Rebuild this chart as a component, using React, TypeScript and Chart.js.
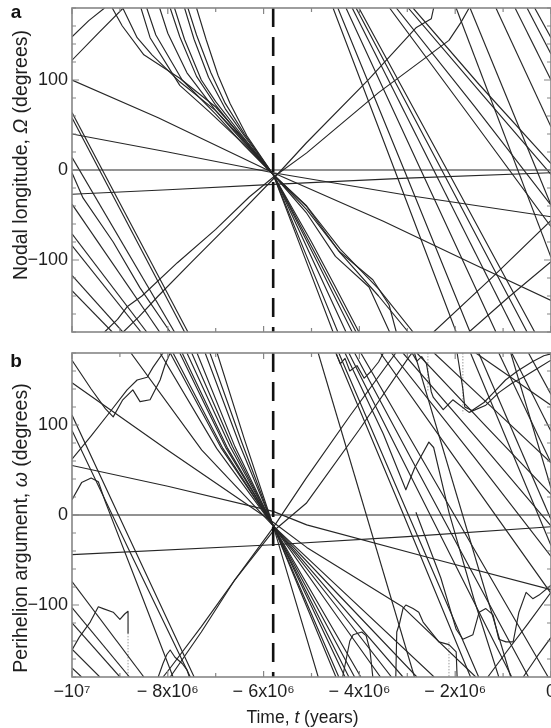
import React, { useEffect, useRef } from 'react';
import { Chart, registerables } from 'chart.js';

Chart.register(...registerables);

type Pt = [number, number] | null;
type Track = Pt[];
type RichPart = { text: string; italic?: boolean };

const FONT = "'Liberation Sans', Arial, Helvetica, sans-serif";
const LINE = '#262626';

// ---- axes ----
const xTickValues = [-10, -8, -6, -4, -2, 0];
const xTickLabels = ['\u221210\u2077', '\u2212 8x10\u2076', '\u2212 6x10\u2076', '\u2212 4x10\u2076', '\u2212 2x10\u2076', '0'];
const xMinorTicks = [-10, -9, -8, -7, -6, -5, -4, -3, -2, -1, 0];
const yTickValues = [-100, 0, 100];
const yTickLabels = ['\u2212100', '0', '100'];
const yMinorTicks = [-180, -160, -140, -120, -100, -80, -60, -40, -20, 0, 20, 40, 60, 80, 100, 120, 140, 160, 180];
const timeMin = -10;
const timeMax = 0;
const angleMin = -180;
const angleMax = 180;
const eventTime = -5.8; // Myr, dashed line

const nodalTitle: RichPart[] = [{ text: 'Nodal longitude, ' }, { text: '\u03A9', italic: true }, { text: ' (degrees)' }];
const periTitle: RichPart[] = [{ text: 'Perihelion argument, ' }, { text: '\u03C9', italic: true }, { text: ' (degrees)' }];
const timeTitle: RichPart[] = [{ text: 'Time, ' }, { text: 't', italic: true }, { text: ' (years)' }];

// ---- panel a : nodal longitude (deg) vs time (Myr) ----
const nodalReference: Track = [[-10, 0], [0, 0]];
const nodalDriftUp: Track = [[-10, -27], [-8, -22], [-5.8, -16], [-3, -9], [0, -3]];
const nodalDriftFast: Track = [[-10, 100], [-8.2, 58], [-5.8, -3], [-3.5, -57], [-1.6, -105], [0, -145]];
const nodalDriftSlow: Track = [[-10, 40], [-8, 20], [-5.8, -3], [-3, -28], [0, -52]];
const nodalRiseA: Track = [[-10, 148], [-9.65, 166], [-9.32, 180], null, [-9.32, -180], [-9.05, -166], [-8.85, -152], [-8.54, -140], [-7.8, -103], [-7, -66], [-6.3, -30], [-5.8, -8], [-5.1, 19], [-3.6, 86], [-2.13, 144], [-1.88, 164], [-1.71, 180], null, [-1.71, -180], [-0.9, -142], [0, -102]];
const nodalRiseB: Track = [[-10, 122], [-9.45, 152], [-8.93, 180], null, [-8.93, -180], [-8.6, -163], [-8.2, -140], [-7.5, -102], [-6.6, -54], [-5.8, -10], [-5.11, 30], [-3.8, 101], [-2.82, 158], [-2.5, 168], [-2.45, 180], null, [-2.45, -180], [-1.2, -118], [0, -56]];
const nodalFast1: Track = [[-10, -134], [-9.16, -180], null, [-9.16, 180], [-8.95, 160], [-8.5, 128], [-7.75, 102], [-7, 70], [-6.4, 34], [-5.8, -5], [-5.1, -40], [-4.4, -88], [-3.6, -132], [-2.88, -180], null, [-2.88, 180], [-1.5, 95], [0, 7]];
const nodalFast2: Track = [[-10, -117], [-8.94, -180], null, [-8.94, 180], [-8.64, 147], [-8.33, 128], [-7.75, 98], [-7, 66], [-6.4, 32], [-5.8, -5], [-5.1, -44], [-4.4, -92], [-3.6, -140], [-2.98, -180], null, [-2.98, 180], [-1.5, 88], [0, -5]];
const nodalFast3: Track = [[-10, -84], [-8.56, -180], null, [-8.56, 180], [-8.37, 147], [-7.75, 94], [-7.12, 64], [-6.4, 28], [-5.8, -5], [-5.11, -40], [-4.43, -90], [-3.72, -122], [-3.38, -150], [-3.23, -180], null, [-3.23, 180], [-1.6, 71], [0, -39]];
const nodalFast4: Track = [[-10, -71], [-8.44, -180], null, [-8.44, 180], [-8.25, 150], [-7.7, 100], [-7, 62], [-6.4, 27], [-5.8, -5], [-5.1, -48], [-4.5, -96], [-3.8, -130], [-3.37, -180], null, [-3.37, 180], [-1.7, 60], [0, -63]];
const nodalFast5: Track = [[-10, -38], [-8.17, -180], null, [-8.17, 180], [-8, 152], [-7.6, 108], [-7, 66], [-6.4, 30], [-5.8, -5], [-5, -80], [-4.5, -130], [-4.01, -180], null, [-4.01, 180], [-2.2, 3], [-0.34, -180], null, [-0.34, 180], [0, 147]];
const nodalFast6: Track = [[-10, -3], [-9.77, -31], [-9.14, -80], [-8.58, -131], [-7.95, -180], null, [-7.95, 180], [-7.75, 148], [-7.4, 104], [-7, 72], [-6.4, 32], [-5.8, -5], [-4.9, -95], [-4.07, -180], null, [-4.07, 180], [-2.3, 2], [-0.5, -180], null, [-0.5, 180], [0, 129]];
const nodalFast7: Track = [[-10, 14], [-7.86, -180], null, [-7.86, 180], [-7.65, 145], [-7.3, 100], [-7, 76], [-6.4, 35], [-5.8, -5], [-4.9, -100], [-4.15, -180], null, [-4.15, 180], [-2.45, 0], [-0.75, -180], null, [-0.75, 180], [0, 100]];
const nodalFast8: Track = [[-10, 58], [-7.65, -180], null, [-7.65, 180], [-7.45, 145], [-7.15, 103], [-6.8, 68], [-6.4, 38], [-5.8, -5], [-5, -97], [-4.28, -180], null, [-4.28, 180], [-2.7, -2], [-1.15, -180], null, [-1.15, 180], [0, 48]];
const nodalFast9: Track = [[-10, 64], [-7.58, -180], null, [-7.58, 180], [-7.4, 150], [-7.1, 108], [-6.8, 74], [-6.4, 40], [-5.8, -5], [-5.1, -96], [-4.45, -180], null, [-4.45, 180], [-3.05, -2], [-1.69, -180], null, [-1.69, 180], [0, -39]];
const nodalFast10: Track = [[-7.4, 180], [-7.2, 145], [-6.95, 105], [-6.7, 74], [-6.35, 38], [-5.8, -5], [-5.15, -96], [-4.55, -180], null, [-4.55, 180], [-3.3, 5], [-1.98, -180], null, [-1.98, 180], [0, -97]];

const nodalTracks: Track[] = [nodalReference, nodalDriftUp, nodalDriftFast, nodalDriftSlow, nodalRiseA, nodalRiseB, nodalFast1, nodalFast2, nodalFast3, nodalFast4, nodalFast5, nodalFast6, nodalFast7, nodalFast8, nodalFast9, nodalFast10];

// ---- panel b : perihelion argument (deg) vs time (Myr) ----
const periReference: Track = [[-10, 0], [0, 0]];
const periDriftUp: Track = [[-10, -44], [-5.8, -33], [-3, -24], [0, -13]];
const periDriftMid: Track = [[-10, 147], [-8, 72], [-5.8, -8], [-5.1, -36], [-3.1, -102], [-1.57, -180], null, [-1.57, 180], [0, 122]];
const periDriftSlow: Track = [[-10, 55], [-8, 32], [-5.8, 4], [-5.1, -11], [-2.5, -48], [0, -83]];
const periRiseA: Track = [[-10, 172], [-9.6, 140], [-9.3, 118], [-9.14, 109], [-8.94, 128], [-8.73, 139], [-8.58, 126], [-8.37, 128], [-8.16, 150], [-8.05, 168], [-7.95, 180], null, [-7.95, -180], [-7.3, -130], [-6.6, -72], [-5.8, -14], [-5.11, 41], [-4.2, 110], [-3.24, 180], null, [-3.24, -180], [-3.22, -130], [-3.16, -120], [-3.09, -104], [-3.03, -100], [-2.88, -104], [-2.76, -108], [-2.67, -119], [-2.34, -141], [-2.13, -144], [-1.98, -152], [-1.96, -180], null, [-1.96, 180], [-1.84, 140], [-1.8, 120], [-1.65, 116], [-1.4, 125], [-1.2, 136], [-0.95, 150], [-0.7, 160], [-0.4, 170], [-0.15, 177], [0, 179]];
const periRiseB: Track = [[-10, 62], [-9.6, 88], [-9.2, 115], [-8.85, 139], [-8.64, 150], [-8.43, 153], [-8.31, 164], [-8.1, 180], null, [-8.1, -180], [-7.95, -170], [-7.3, -124], [-6.6, -72], [-5.8, -18], [-5.11, 13], [-4, 95], [-2.96, 176], [-2.9, 180], [-2.8, 171], [-2.7, 176], [-2.6, 168], [-2.5, 137], [-2.46, 131], [-2.25, 117], [-2.05, 128], [-1.71, 114], [-1.36, 122], [-1.09, 136], [-0.8, 147], [-0.58, 153], [-0.25, 164], [0, 172]];
const periFast1: Track = [[-10, -170], [-9.8, -180], null, [-8.77, 180], [-7.29, 72], [-5.8, -12], [-4.5, -77], [-2.44, -180], null, [-2.44, 180], [-1.2, 118], [0, 58]];
const periFast2: Track = [[-10, -149], [-9.42, -180], null, [-8.16, 180], [-6.98, 74], [-5.8, -12], [-4.5, -85], [-2.8, -180], null, [-2.8, 180], [-1.4, 101], [0, 23]];
const periFast3: Track = [[-10, -120], [-9, -180], null, [-7.95, 180], [-6.88, 74], [-5.8, -12], [-4.5, -93], [-3.09, -180], null, [-3.09, 180], [-1.5, 82], [0, -12]];
const periFast4: Track = [[-10, -103], [-8.8, -180], null, [-7.89, 180], [-6.85, 74], [-5.8, -12], [-4.5, -100], [-3.33, -180], null, [-3.33, 180], [-1.6, 64], [0, -46]];
const periFast5: Track = [[-10, -74], [-8.5, -180], null, [-7.75, 180], [-6.78, 74], [-5.8, -12], [-4.5, -110], [-3.56, -180], null, [-3.56, 180], [-1.8, 48], [0, -87]];
const periFast6: Track = [[-10, 17], [-9.8, 36], [-9.6, 41], [-9.45, 37], [-9.3, 14], [-8.6, -82], [-7.89, -180], null, [-7.7, 180], [-6.75, 74], [-5.8, -12], [-3.97, -180], null, [-3.97, 180], [-2.05, 3], [-0.06, -180]];
const periFast7: Track = [[-10, 94], [-8.8, -40], [-7.53, -180], null, [-7.6, 180], [-6.7, 76], [-5.8, -12], [-4.1, -180], null, [-4.1, 180], [-2.32, 3], [-0.47, -180], null, [-0.47, 180], [0, 134]];
const periFast8: Track = [[-10, 111], [-8.8, -26], [-7.45, -180], null, [-7.5, 180], [-6.65, 76], [-5.8, -12], [-4.22, -180], null, [-4.22, 180], [-2.55, 3], [-0.82, -180], null, [-0.82, 180], [0, 93]];
const periFast9: Track = [[-7.39, 180], [-6.6, 76], [-5.8, -12], [-4.3, -180], null, [-4.3, 180], [-3.5, 90], [-3.03, 28], [-2.85, 52], [-2.55, 81], [-2.45, 75], [-2.13, 3], [-1.6, -95], [-1.09, -180], null, [-1.09, 180], [0, 58]];
const periFast10: Track = [[-7.22, 180], [-6.5, 78], [-5.8, -12], [-4.43, -180], null, [-4.43, 180], [-3, 3], [-1.51, -180], null, [-1.51, 180], [0, -5]];
const periFast11: Track = [[-7.12, 180], [-6.45, 80], [-5.8, -12], [-4.49, -180], null, [-4.49, 180], [-3.1, 3], [-1.68, -180], null, [-1.68, 180], [0, -34]];
const periFast12: Track = [[-6.97, 180], [-6.4, 84], [-5.8, -12], [-4.86, -180], null, [-4.86, 180], [-2.85, -180], null, [-2.85, 180], [-0.84, -180], null, [-0.84, 180], [0, 30]];
const periWaveLowLeft: Track = [[-10, -150], [-9.85, -136], [-9.62, -119], [-9.45, -102], [-9.35, -104], [-9.14, -108], [-9.0, -116], [-8.9, -110], [-8.83, -107], [-8.83, -131]];
const periWaveLowLeft2: Track = [[-8.2, -180], [-8.1, -165], [-8.02, -155], [-7.95, -150], [-7.85, -158], [-7.7, -165], [-7.6, -172], [-7.55, -180]];
const periBumpLow: Track = [[-4.35, -180], [-4.2, -140], [-4.13, -133], [-3.95, -130], [-3.86, -134], [-3.78, -150], [-3.72, -180]];
const periWaveLowRight: Track = [[-2.82, 3], [-2.3, -70], [-1.98, -127], [-1.84, -138], [-1.63, -133], [-1.5, -108], [-1.36, -104], [-1.21, -111], [-1.09, -138], [-0.94, -141], [-0.79, -141], [-0.67, -108], [-0.52, -86], [-0.38, -93], [-0.25, -89], [0, -78]];
const periWaveTop: Track = [[-4.49, 180], [-4.4, 168], [-4.3, 174], [-4.2, 160], [-4.05, 166], [-3.9, 152], [-3.75, 160], [-3.6, 170], [-3.5, 180]];
const periRiseLateA: Track = [[-1.32, -180], [-0.9, -150], [-0.5, -122], [0, -86]];
const periRiseLateB: Track = [[-0.58, -180], [-0.3, -158], [0, -136]];

const periTracks: Track[] = [periReference, periDriftUp, periDriftMid, periDriftSlow, periRiseA, periRiseB, periFast1, periFast2, periFast3, periFast4, periFast5, periFast6, periFast7, periFast8, periFast9, periFast10, periFast11, periFast12, periWaveLowLeft, periWaveLowLeft2, periBumpLow, periWaveLowRight, periWaveTop, periRiseLateA, periRiseLateB];

// faint dotted jumps
const periWrapMarks: Track[] = [
  [[-8.83, -131], [-8.83, -180]],
  [[-2.57, 180], [-2.57, 137]],
  [[-1.84, 180], [-1.84, 113]],
  [[-2.13, -141], [-2.13, -180]],
];

function splitTrack(track: Track): [number, number][][] {
  const out: [number, number][][] = [];
  let cur: [number, number][] = [];
  for (const p of track) {
    if (p === null) {
      if (cur.length) out.push(cur);
      cur = [];
    } else cur.push(p);
  }
  if (cur.length) out.push(cur);
  return out;
}

function buildDatasets(tracks: Track[], dotted: Track[]) {
  const ds: any[] = [
    {
      data: [{ x: eventTime, y: angleMax }, { x: eventTime, y: angleMin }],
      borderColor: '#111',
      borderWidth: 2.6,
      borderDash: [19, 10],
      pointRadius: 0,
    },
  ];
  tracks.forEach((tr) =>
    splitTrack(tr).forEach((seg) =>
      ds.push({
        data: seg.map(([x, y]) => ({ x, y })),
        borderColor: LINE,
        borderWidth: 1.15,
        pointRadius: 0,
        borderJoinStyle: 'round',
      })
    )
  );
  dotted.forEach((tr) =>
    splitTrack(tr).forEach((seg) =>
      ds.push({
        data: seg.map(([x, y]) => ({ x, y })),
        borderColor: '#9a9a9a',
        borderWidth: 1,
        borderDash: [1.5, 1.5],
        pointRadius: 0,
      })
    )
  );
  return ds;
}

function drawRich(ctx: CanvasRenderingContext2D, parts: RichPart[], cx: number, cy: number, rotate: boolean, size: number) {
  ctx.save();
  ctx.translate(cx, cy);
  if (rotate) ctx.rotate(-Math.PI / 2);
  const fonts = parts.map((p) => `${p.italic ? 'italic ' : ''}${size}px ${FONT}`);
  let total = 0;
  const widths = parts.map((p, i) => {
    ctx.font = fonts[i];
    const w = ctx.measureText(p.text).width;
    total += w;
    return w;
  });
  let x = -total / 2;
  ctx.textBaseline = 'middle';
  ctx.textAlign = 'left';
  ctx.fillStyle = '#1e1e1e';
  parts.forEach((p, i) => {
    ctx.font = fonts[i];
    ctx.fillText(p.text, x, 0);
    x += widths[i];
  });
  ctx.restore();
}

type PanelProps = {
  id: string;
  tracks: Track[];
  dotted: Track[];
  canvasTop: number;
  canvasHeight: number;
  padTop: number;
  padBottom: number;
  showX: boolean;
  yTitle: RichPart[];
  yTitleCenter: number; // absolute page y
  letter: string;
  letterBaseline: number; // absolute page y
};

function Panel(props: PanelProps) {
  const ref = useRef<HTMLCanvasElement>(null);
  useEffect(() => {
    const off = props.canvasTop;
    const decor = {
      id: 'decor-' + props.id,
      afterDraw(chart: any) {
        const { ctx, chartArea: a, scales } = chart;
        const xs = scales.x;
        const ys = scales.y;
        ctx.save();
        ctx.strokeStyle = '#868686';
        ctx.lineWidth = 1.6;
        ctx.strokeRect(a.left, a.top, a.right - a.left, a.bottom - a.top);
        ctx.lineWidth = 1.2;
        ctx.beginPath();
        xMinorTicks.forEach((v) => {
          const px = xs.getPixelForValue(v);
          const len = xTickValues.includes(v) ? 6 : 4;
          ctx.moveTo(px, a.top);
          ctx.lineTo(px, a.top + len);
          ctx.moveTo(px, a.bottom);
          ctx.lineTo(px, a.bottom - len);
        });
        yMinorTicks.forEach((v) => {
          const py = ys.getPixelForValue(v);
          const len = yTickValues.includes(v) ? 7 : 4;
          ctx.moveTo(a.left, py);
          ctx.lineTo(a.left + len, py);
          ctx.moveTo(a.right, py);
          ctx.lineTo(a.right - len, py);
        });
        ctx.stroke();
        ctx.restore();
        drawRich(ctx, props.yTitle, 22, props.yTitleCenter - off, true, 19.5);
        if (props.showX) {
          drawRich(ctx, timeTitle, (a.left + a.right) / 2 - 9, 718 - off, false, 17.5);
        }
        ctx.save();
        ctx.font = `bold 19px ${FONT}`;
        ctx.fillStyle = '#111';
        ctx.textAlign = 'center';
        ctx.textBaseline = 'alphabetic';
        ctx.fillText(props.letter, 16, props.letterBaseline - off);
        ctx.restore();
      },
    };
    const xHeight = props.showX ? 51 : 0;

    const chart = new Chart(ref.current as HTMLCanvasElement, {
      type: 'line',
      data: { datasets: buildDatasets(props.tracks, props.dotted) },
      options: {
        responsive: false,
        animation: false,
        events: [],
        layout: { padding: { top: props.padTop, right: 49, bottom: props.padBottom, left: 0 } },
        plugins: { legend: { display: false }, tooltip: { enabled: false } },
        elements: { line: { tension: 0 }, point: { radius: 0 } },
        scales: {
          x: {
            type: 'linear',
            min: timeMin,
            max: timeMax,
            display: props.showX,
            grid: { display: false, drawTicks: false },
            border: { display: false },
            ticks: {
              autoSkip: false,
              maxRotation: 0,
              padding: 4,
              color: '#1e1e1e',
              font: { family: FONT, size: 18 },
              callback: (v: any) => {
                const i = xTickValues.indexOf(Number(v));
                return i >= 0 ? xTickLabels[i] : '';
              },
            },
            afterBuildTicks: (s: any) => {
              s.ticks = xTickValues.map((v) => ({ value: v }));
            },
            afterFit: (s: any) => {
              s.height = xHeight;
            },
          },
          y: {
            type: 'linear',
            min: angleMin,
            max: angleMax,
            grid: { display: false, drawTicks: false },
            border: { display: false },
            ticks: {
              padding: 4,
              color: '#1e1e1e',
              font: { family: FONT, size: 18 },
              callback: (v: any) => {
                const i = yTickValues.indexOf(Number(v));
                return i >= 0 ? yTickLabels[i] : '';
              },
            },
            afterBuildTicks: (s: any) => {
              s.ticks = yTickValues.map((v) => ({ value: v }));
            },
            afterFit: (s: any) => {
              s.width = 72;
            },
          },
        },
      } as any,
      plugins: [decor],
    });
    return () => chart.destroy();
  }, []);
  return (
    <canvas
      ref={ref}
      width={600}
      height={props.canvasHeight}
      style={{ position: 'absolute', left: 0, top: props.canvasTop, width: 600, height: props.canvasHeight }}
    />
  );
}

export default function App() {
  return (
    <div
      style={{
        position: 'fixed',
        left: 0,
        top: 0,
        width: 551,
        height: 728,
        overflow: 'hidden',
        background: '#fff',
      }}
    >
      <Panel
        id="a"
        tracks={nodalTracks}
        dotted={[]}
        canvasTop={-8}
        canvasHeight={356}
        padTop={16}
        padBottom={16}
        showX={false}
        yTitle={nodalTitle}
        yTitleCenter={155}
        letter="a"
        letterBaseline={18}
      />
      <Panel
        id="b"
        tracks={periTracks}
        dotted={periWrapMarks}
        canvasTop={336}
        canvasHeight={392}
        padTop={17}
        padBottom={0}
        showX={true}
        yTitle={periTitle}
        yTitleCenter={528}
        letter="b"
        letterBaseline={367}
      />
    </div>
  );
}
